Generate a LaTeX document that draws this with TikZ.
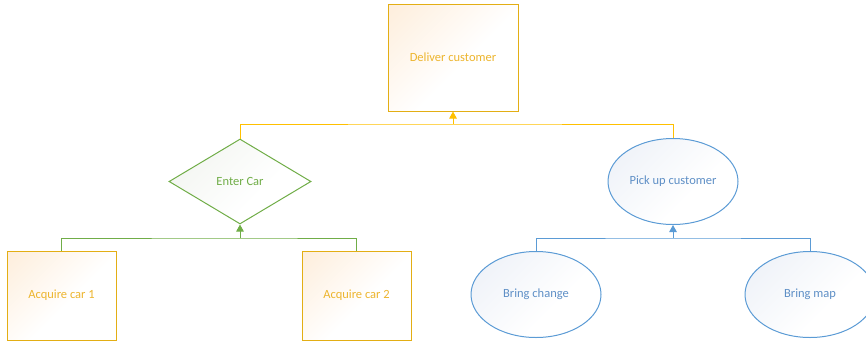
\documentclass[tikz,border=0pt]{standalone}
\usepackage{fontspec}
\setmainfont{Carlito}
\usetikzlibrary{shapes.geometric,arrows.meta}

\definecolor{gold}{HTML}{E3AE14}
\definecolor{goldtext}{HTML}{EDB52E}
\definecolor{goldline}{HTML}{FFC000}
\definecolor{peach}{HTML}{FEEEDC}
\definecolor{leaf}{HTML}{70AD47}
\definecolor{leaffill}{HTML}{F0F3EE}
\definecolor{sky}{HTML}{5B9BD5}
\definecolor{skytext}{HTML}{5E8FC6}
\definecolor{skyfill}{HTML}{ECF0F7}

% tints that fade to white towards the far corner of the shape
\pgfdeclareverticalshading{peachfade}{100bp}{color(0bp)=(white); color(45bp)=(white); color(85bp)=(peach); color(100bp)=(peach)}
\pgfdeclareverticalshading{leaffade}{100bp}{color(0bp)=(white); color(40bp)=(white); color(85bp)=(leaffill); color(100bp)=(leaffill)}
\pgfdeclareverticalshading{skyfade}{100bp}{color(0bp)=(white); color(40bp)=(white); color(85bp)=(skyfill); color(100bp)=(skyfill)}

\tikzset{
  % tint in the upper left corner
  base/.style={font=\fontsize{12.5}{14}\selectfont, inner sep=0pt, line width=1pt, shade, shading angle=45},
  taskbox/.style={base, draw=gold, text=goldtext, rectangle, shading=peachfade},
  decision/.style={base, draw=leaf, text=leaf, diamond, aspect=1.67, minimum width=142pt, minimum height=85pt, shading=leaffade},
  event/.style={base, draw=sky, text=skytext, ellipse, minimum width=130pt, minimum height=86pt, shading=skyfade},
  bus/.style={line width=1pt},
  uptip/.style={bus, -{Triangle[length=7pt,width=7.5pt]}}
}

\begin{document}
\begin{tikzpicture}[x=1pt, y=-1pt]
  \useasboundingbox (0,0) rectangle (866,343);
  \clip (0,0) rectangle (866,343);

  % goal and its two subgoals
  \node[taskbox, minimum width=130pt, minimum height=107pt] (deliver) at (453,57.5) {Deliver customer};
  \node[decision] (enter) at (240,181.5) {Enter Car};
  \node[event] (pickup) at (673,181.5) {Pick up customer};

  % leaves
  \node[taskbox, minimum width=109pt, minimum height=89pt] (car1) at (61.5,295.5) {Acquire car 1};
  \node[taskbox, minimum width=109pt, minimum height=89pt] (car2) at (356.5,295.5) {Acquire car 2};
  \node[event] (change) at (536,294.5) {Bring change};
  \node[event] (map) at (810,294.5) {Bring map};

  % junction points of the buses
  \coordinate (ybus) at (453,124);
  \coordinate (gbus) at (240,238);
  \coordinate (bbus) at (673,238);

  % yellow bus into the goal
  \draw[bus, goldline] (enter.north) |- (ybus) -| (pickup.north);
  \draw[uptip, goldline] (ybus) -- (deliver.south);

  % green bus into the decision
  \draw[bus, leaf] (car1.north) |- (gbus) -| (car2.north);
  \draw[uptip, leaf] (gbus) -- (enter.south);

  % blue bus into the event
  \draw[bus, sky] (change.north) |- (bbus) -| (map.north);
  \draw[uptip, sky] (bbus) -- (pickup.south);
\end{tikzpicture}
\end{document}
